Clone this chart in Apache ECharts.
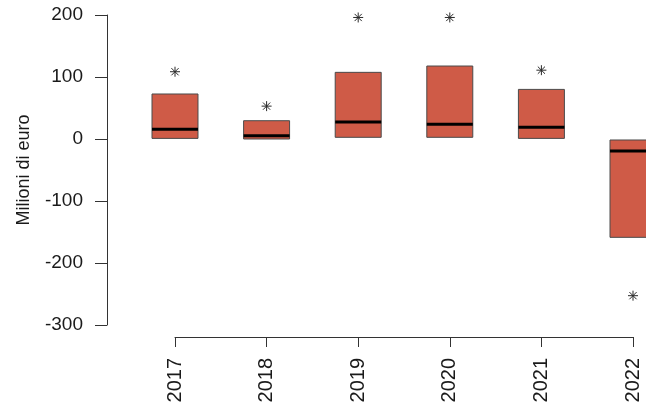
<!DOCTYPE html>
<html>
<head>
<meta charset="utf-8">
<script src="https://cdn.jsdelivr.net/npm/echarts@6/dist/echarts.min.js"></script>
<style>
  html, body { margin: 0; padding: 0; background: #ffffff; }
  #chart { width: 646px; height: 407px; }
</style>
</head>
<body>
<div id="chart"></div>
<script>
// Yearly distribution (million euro): box from first to third quartile, median bar, outlier
const years = ['2017', '2018', '2019', '2020', '2021', '2022'];
const lowerQuartile = [1, 0, 2.7, 2.7, 1, -158.6];
const medianValue = [15.6, 5.3, 27.4, 23.7, 18.8, -19.4];
const upperQuartile = [72.6, 29.5, 107.5, 117.7, 80, -1.6];
const outlierValue = [108.5, 53, 196, 196, 111, -252.7];
const yTicks = [-300, -200, -100, 0, 100, 200];

const boxData = years.map((y, i) => [i + 1, lowerQuartile[i], medianValue[i], upperQuartile[i]]);
const outlierData = years.map((y, i) => [i + 1, outlierValue[i]]);

const chart = echarts.init(document.getElementById('chart'), null, { renderer: 'canvas' });

const textColor = '#1a1a1a';
const axisColor = '#333333';
const fontFamily = 'Liberation Sans, Arial, sans-serif';

chart.setOption({
  backgroundColor: '#ffffff',
  animation: false,
  grid: { left: 175, top: 15, width: 458, height: 310, containLabel: false },
  xAxis: {
    type: 'value',
    min: 1,
    max: 6,
    interval: 1,
    offset: 12,
    axisLine: { show: true, onZero: false, lineStyle: { color: axisColor, width: 1 } },
    axisTick: { show: true, inside: false, length: 10, lineStyle: { color: axisColor, width: 1 } },
    axisLabel: {
      rotate: 90,
      margin: 21,
      color: textColor,
      fontFamily: fontFamily,
      fontSize: 20,
      formatter: v => years[Math.round(v) - 1] || ''
    },
    splitLine: { show: false }
  },
  yAxis: {
    type: 'value',
    min: yTicks[0],
    max: yTicks[yTicks.length - 1],
    interval: 100,
    offset: 68,
    name: 'Milioni di euro',
    nameLocation: 'middle',
    nameGap: 74,
    nameRotate: 90,
    nameTextStyle: { color: textColor, fontFamily: fontFamily, fontSize: 18 },
    axisLine: { show: true, onZero: false, lineStyle: { color: axisColor, width: 1 } },
    axisTick: { show: true, inside: false, length: 12, lineStyle: { color: axisColor, width: 1 } },
    axisLabel: {
      margin: 24,
      color: textColor,
      fontFamily: fontFamily,
      fontSize: 19
    },
    splitLine: { show: false }
  },
  series: [
    {
      type: 'custom',
      clip: false,
      data: boxData,
      renderItem: function (params, api) {
        const x = api.value(0);
        const lo = api.value(1);
        const med = api.value(2);
        const hi = api.value(3);
        const tl = api.coord([x - 0.251, hi]);
        const br = api.coord([x + 0.251, lo]);
        const ml = api.coord([x - 0.251, med]);
        const mr = api.coord([x + 0.251, med]);
        return {
          type: 'group',
          children: [
            {
              type: 'rect',
              shape: { x: tl[0], y: tl[1], width: br[0] - tl[0], height: br[1] - tl[1] },
              style: { fill: '#CF5B47', stroke: '#4a4a4a', lineWidth: 1 }
            },
            {
              type: 'line',
              shape: { x1: ml[0], y1: ml[1], x2: mr[0], y2: mr[1] },
              style: { stroke: '#000000', lineWidth: 3 }
            }
          ]
        };
      }
    },
    {
      type: 'custom',
      clip: false,
      data: outlierData,
      renderItem: function (params, api) {
        const p = api.coord([api.value(0), api.value(1)]);
        const r = 5;
        const d = r * 0.72;
        const st = { stroke: '#2a2a2a', lineWidth: 1 };
        return {
          type: 'group',
          children: [
            { type: 'line', shape: { x1: p[0] - r, y1: p[1], x2: p[0] + r, y2: p[1] }, style: st },
            { type: 'line', shape: { x1: p[0], y1: p[1] - r, x2: p[0], y2: p[1] + r }, style: st },
            { type: 'line', shape: { x1: p[0] - d, y1: p[1] - d, x2: p[0] + d, y2: p[1] + d }, style: st },
            { type: 'line', shape: { x1: p[0] - d, y1: p[1] + d, x2: p[0] + d, y2: p[1] - d }, style: st }
          ]
        };
      }
    }
  ]
});
</script>
</body>
</html>
